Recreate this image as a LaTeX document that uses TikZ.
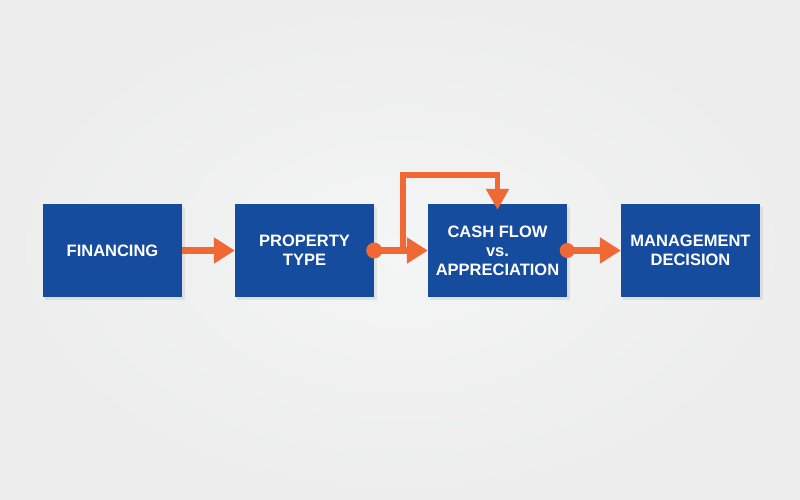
\documentclass[tikz,border=0pt]{standalone}
\usepackage{fontspec}
\setmainfont{Liberation Sans}
\usetikzlibrary{arrows.meta,calc}
\definecolor{bg}{RGB}{236,237,236}
\definecolor{bglight}{RGB}{244,245,245}
\definecolor{boxblue}{RGB}{22,76,158}
\definecolor{arrorange}{RGB}{240,104,52}
\begin{document}
\begin{tikzpicture}[x=1pt,y=-1pt,
  stepbox/.style={fill=boxblue, minimum width=139pt, minimum height=93pt, inner sep=0pt,
    text=white, font=\fontsize{16.5}{19}\selectfont\bfseries, align=center},
  flowarrow/.style={draw=arrorange, line width=6.5pt, -{Triangle[length=21pt,width=25pt]}},
  looparrow/.style={draw=arrorange, line width=5.5pt, -{Triangle[length=21pt,width=22pt]}},
  dot/.style={fill=arrorange}
]
\useasboundingbox (0,0) rectangle (800,500);
\shade[inner color=bglight, outer color=bg] (0,0) rectangle (800,500);
\foreach \cx in {112.5,304.5,497.5,690.5}{
  \fill[black, opacity=0.07] (\cx-69.5+2,204+3) rectangle (\cx+69.5+3,297+3);
}
\node[stepbox] (fin) at (112.5,250.5) {FINANCING};
\node[stepbox] (prop) at (304.5,250.5) {PROPERTY\\TYPE};
\node[stepbox] (cash) at (497.5,250.5) {CASH FLOW\\vs.\\APPRECIATION};
\node[stepbox] (mgmt) at (690.5,250.5) {MANAGEMENT\\DECISION};
\coordinate (br) at (403,250.5);
\coordinate (top) at (403,175);
\draw[flowarrow] (fin.east) -- (prop.west);
\draw[flowarrow] (prop.east) -- (cash.west);
\draw[flowarrow] (cash.east) -- (mgmt.west);
\draw[looparrow, line join=miter, shorten >=-6pt] (br) -- (top) -- (top -| cash.north) -- (cash.north);
\fill[dot] (prop.east) circle (8);
\fill[dot] (cash.east) circle (7.5);
\end{tikzpicture}
\end{document}
